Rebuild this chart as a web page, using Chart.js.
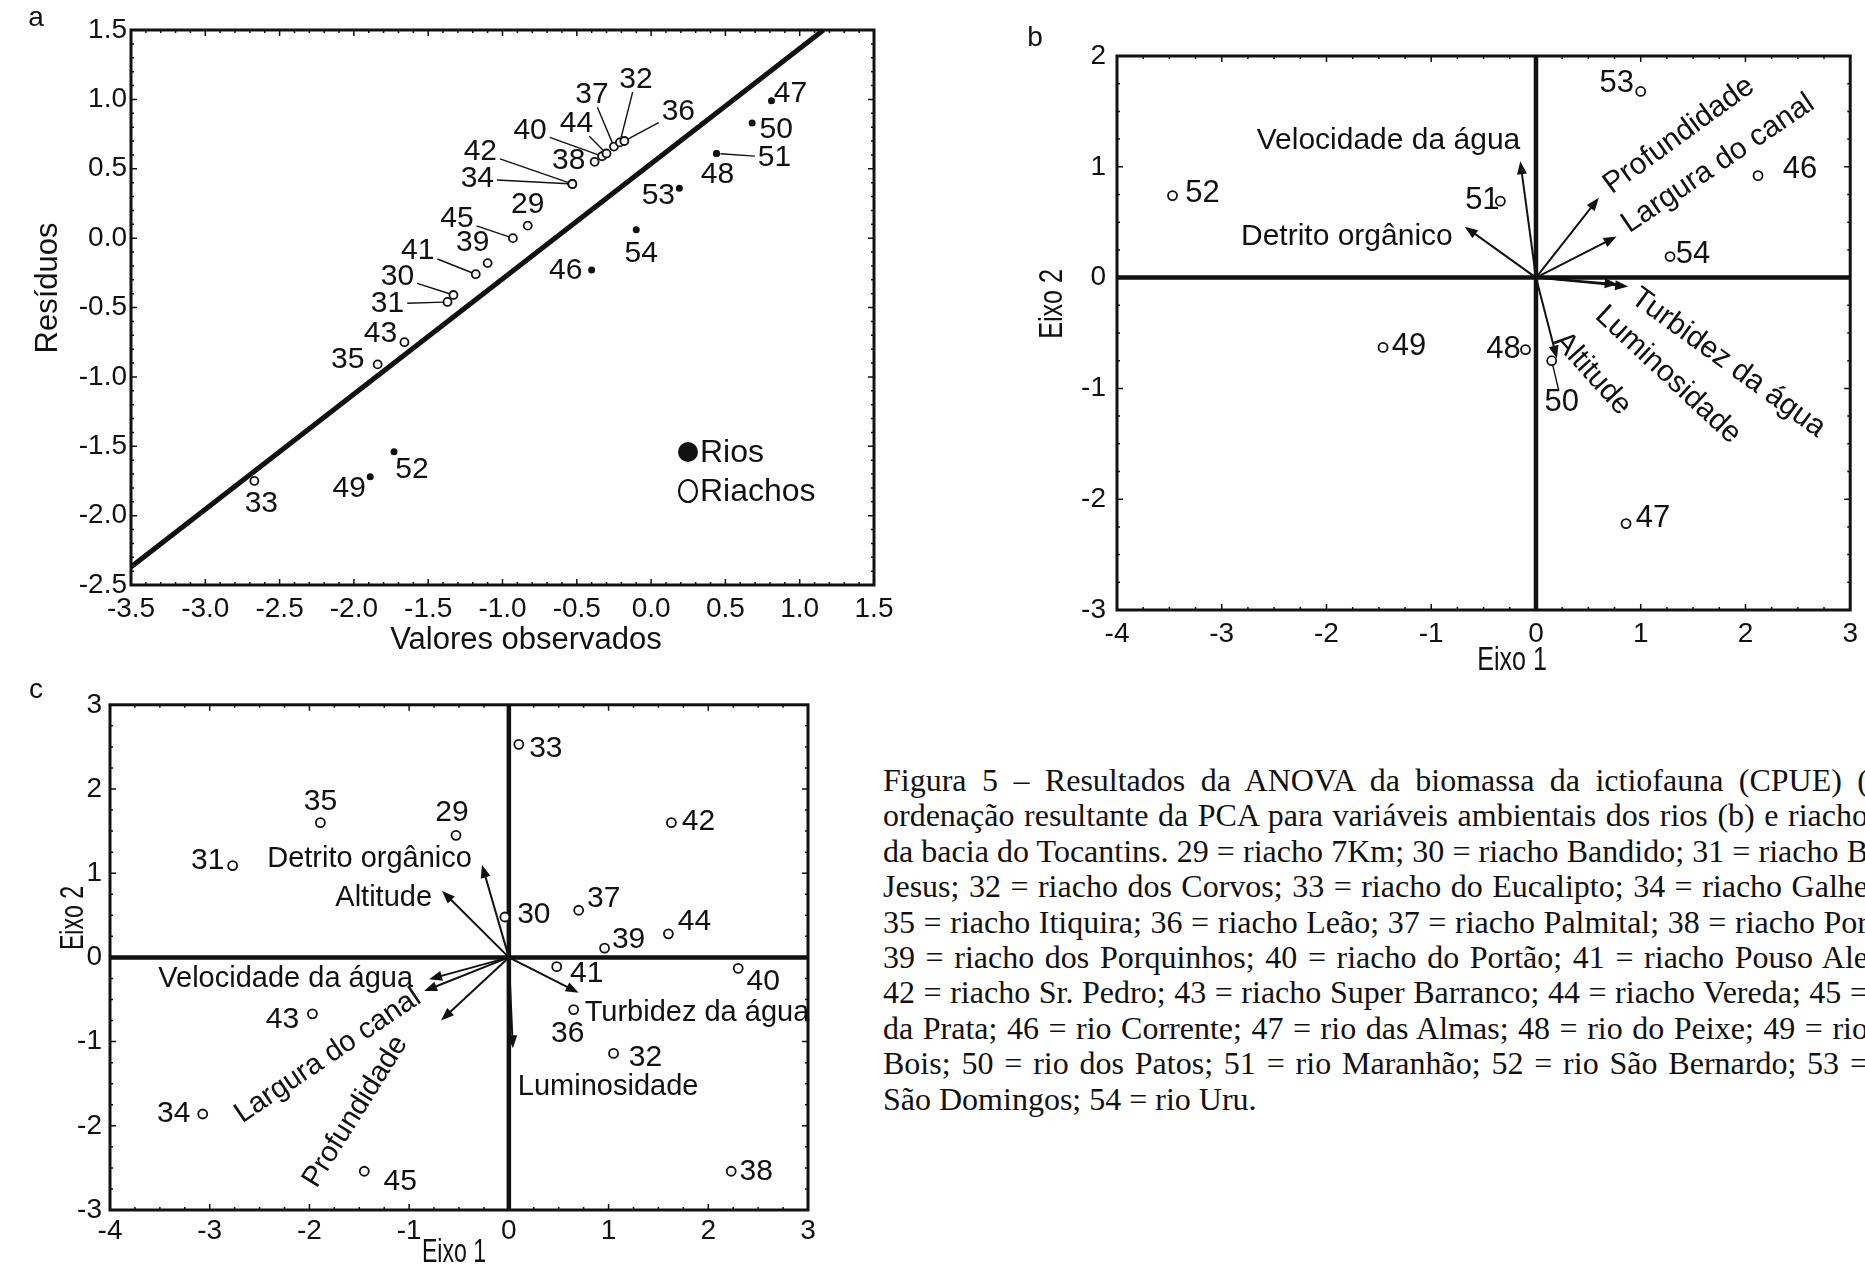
<!DOCTYPE html>
<html lang="pt">
<head>
<meta charset="utf-8">
<title>Figura 5 - ANOVA e PCA</title>
<script src="https://cdn.jsdelivr.net/npm/chart.js@4.4.0/dist/chart.umd.min.js"></script>
<style>
    html, body { margin: 0; padding: 0; background: #fff; }
    body { width: 1865px; height: 1267px; position: relative; overflow: hidden; }
    canvas { position: absolute; display: block; }
    #caption {
        position: absolute; left: 883px; top: 763px;
        font-family: "Liberation Serif", "Times New Roman", serif;
        font-size: 32px; color: #111;
    }
    #caption div {
        width: 985px; height: 35.4px; line-height: 35.4px;
        white-space: nowrap; text-align: justify; text-align-last: justify;
    }
    #caption div.last { text-align-last: left; }
</style>
</head>
<body>
<canvas id="chartA" width="930" height="680" style="left:0;top:0"></canvas>
<canvas id="chartB" width="865" height="680" style="left:1000px;top:0"></canvas>
<canvas id="chartC" width="860" height="587" style="left:0;top:680px"></canvas>

<div id="caption">
    <div>Figura 5 – Resultados da ANOVA da biomassa da ictiofauna (CPUE) (</div>
    <div>ordenação resultante da PCA para variáveis ambientais dos rios (b) e riacho</div>
    <div>da bacia do Tocantins. 29 = riacho 7Km; 30 = riacho Bandido; 31 = riacho B</div>
    <div>Jesus; 32 = riacho dos Corvos; 33 = riacho do Eucalipto; 34 = riacho Galhe</div>
    <div>35 = riacho Itiquira; 36 = riacho Leão; 37 = riacho Palmital; 38 = riacho Por</div>
    <div>39 = riacho dos Porquinhos; 40 = riacho do Portão; 41 = riacho Pouso Ale</div>
    <div>42 = riacho Sr. Pedro; 43 = riacho Super Barranco; 44 = riacho Vereda; 45 =</div>
    <div>da Prata; 46 = rio Corrente; 47 = rio das Almas; 48 = rio do Peixe; 49 = rio</div>
    <div>Bois; 50 = rio dos Patos; 51 = rio Maranhão; 52 = rio São Bernardo; 53 =</div>
    <div class="last">São Domingos; 54 = rio Uru.</div>
</div>

<script>
// ---- painel a: residuos x valores observados ----
const aXTicks = [-3.5, -3.0, -2.5, -2.0, -1.5, -1.0, -0.5, 0.0, 0.5, 1.0, 1.5];
const aYTicks = [-2.5, -2.0, -1.5, -1.0, -0.5, 0.0, 0.5, 1.0, 1.5];

const aRiosIds = ['47', '50', '51', '48', '53', '54', '46', '52', '49'];
const aRiosX = [0.81, 0.68, 0.44, 0.44, 0.19, -0.10, -0.40, -1.73, -1.89];
const aRiosY = [0.99, 0.83, 0.61, 0.61, 0.36, 0.06, -0.23, -1.54, -1.72];

const aRiachosIds = ['33', '35', '43', '31', '30', '41', '39', '45', '29', '42', '34', '38', '40', '44', '37', '32', '36'];
const aRiachosX = [-2.67, -1.84, -1.66, -1.37, -1.33, -1.18, -1.10, -0.93, -0.83, -0.53, -0.53, -0.38, -0.33, -0.30, -0.25, -0.21, -0.18];
const aRiachosY = [-1.75, -0.91, -0.75, -0.46, -0.41, -0.26, -0.18, 0.00, 0.09, 0.39, 0.39, 0.55, 0.59, 0.61, 0.66, 0.69, 0.70];

// reta de ajuste (extremos)
const aFitX = [-3.5, 1.16];
const aFitY = [-2.37, 1.5];

// ---- painel b: PCA rios ----
const bXTicks = [-4, -3, -2, -1, 0, 1, 2, 3];
const bYTicks = [-3, -2, -1, 0, 1, 2];

const bIds = ['53', '52', '51', '46', '54', '49', '48', '50', '47'];
const bX = [1.00, -3.47, -0.34, 2.12, 1.28, -1.46, -0.10, 0.15, 0.86];
const bY = [1.68, 0.74, 0.69, 0.92, 0.19, -0.63, -0.65, -0.75, -2.22];

const bVarNames = ['Velocidade da água', 'Detrito orgânico', 'Profundidade', 'Largura do canal', 'Turbidez da água', 'Luminosidade', 'Altitude'];
const bVarX = [-0.15, -0.68, 0.60, 0.77, 0.88, 0.78, 0.20];
const bVarY = [1.05, 0.46, 0.72, 0.37, -0.08, -0.06, -0.73];

// ---- painel c: PCA riachos ----
const cXTicks = [-4, -3, -2, -1, 0, 1, 2, 3];
const cYTicks = [-3, -2, -1, 0, 1, 2, 3];

const cIds = ['33', '35', '29', '31', '42', '37', '30', '44', '39', '41', '40', '36', '43', '32', '34', '45', '38'];
const cX = [0.10, -1.89, -0.53, -2.77, 1.63, 0.70, -0.04, 1.60, 0.96, 0.48, 2.30, 0.65, -1.97, 1.05, -3.07, -1.45, 2.23];
const cY = [2.53, 1.60, 1.45, 1.09, 1.60, 0.56, 0.48, 0.28, 0.11, -0.11, -0.13, -0.62, -0.67, -1.14, -1.86, -2.54, -2.54];

const cVarNames = ['Detrito orgânico', 'Altitude', 'Velocidade da água', 'Largura do canal', 'Profundidade', 'Turbidez da água', 'Luminosidade'];
const cVarX = [-0.27, -0.67, -0.80, -0.85, -0.68, 0.70, 0.04];
const cVarY = [1.10, 0.79, -0.26, -0.40, -0.75, -0.42, -1.08];

// ---- posicao dos rotulos (px a partir do ponto) ----
const aTagOffsets = {
    '47': [19, -7], '50': [24, 7], '51': [58, 4, true], '48': [1, 21], '53': [-21, 8],
    '54': [5, 24], '46': [-26, 1], '52': [18, 18], '49': [-21, 12], '33': [7, 23],
    '35': [-30, -5], '43': [-24, -8], '31': [-60, 2, true], '30': [-56, -18, true],
    '41': [-58, -23, true], '39': [-15, -20], '45': [-56, -19, true], '29': [0, -21],
    '42': [-92, -32, true], '34': [-95, -5, true], '38': [-26, -1], '40': [-72, -26, true],
    '44': [-30, -30, true], '37': [-22, -52, true], '32': [16, -63, true], '36': [54, -29, true],
};
const bTagOffsets = {
    '53': [-24, -8], '52': [30, -2], '51': [-18, -1], '46': [42, -6], '54': [23, -2],
    '49': [26, -1], '48': [-22, 0], '50': [10, 42, true], '47': [27, -5],
};
const cTagOffsets = {
    '33': [27, 4], '35': [0, -21], '29': [-4, -23], '31': [-25, -5], '42': [27, -1],
    '37': [25, -12], '30': [29, -2], '44': [26, -12], '39': [24, -8], '41': [30, 7],
    '40': [25, 13], '36': [-6, 24], '43': [-30, 6], '32': [32, 4], '34': [-29, 0],
    '45': [36, 10], '38': [25, 0],
};
const bVarLayout = [
    { dx: 0, dy: -21, align: 'right', rot: 0 },
    { dx: -12, dy: 10, align: 'right', rot: 0 },
    { dx: 8, dy: -10, align: 'left', rot: -36 },
    { dx: 8, dy: -10, align: 'left', rot: -34 },
    { dx: 6, dy: 8, align: 'left', rot: 36 },
    { dx: -18, dy: 27, align: 'left', rot: 43 },
    { dx: 2, dy: -22, align: 'left', rot: 48 },
];
const cVarLayout = [
    { dx: -10, dy: -6, align: 'right', rot: 0 },
    { dx: -10, dy: 7, align: 'right', rot: 0 },
    { dx: -16, dy: 0, align: 'right', rot: 0 },
    { dx: -6, dy: 4, align: 'right', rot: -34 },
    { dx: -40, dy: 18, align: 'right', rot: -58 },
    { dx: 6, dy: 20, align: 'left', rot: 0 },
    { dx: 5, dy: 39, align: 'left', rot: 0 },
];

const INK = '#111';
const FONT = '"Liberation Sans", Arial, Helvetica, sans-serif';

Chart.defaults.font.family = FONT;
Chart.defaults.color = INK;
Chart.defaults.animation = false;

const toPoints = (xs, ys) => xs.map((x, i) => ({ x, y: ys[i] }));

// moldura grossa, marcas internas, eixos zero, letra e titulos dos eixos
const framePlugin = {
    id: 'frame',
    beforeDatasetsDraw(chart, args, o) {
        if (!o.zeroLines) return;
        const { ctx, chartArea: a, scales: { x, y } } = chart;
        const x0 = x.getPixelForValue(0);
        const y0 = y.getPixelForValue(0);
        ctx.save();
        ctx.strokeStyle = INK;
        ctx.lineWidth = o.zeroWidth;
        ctx.beginPath();
        ctx.moveTo(x0, a.top);
        ctx.lineTo(x0, a.bottom);
        ctx.moveTo(a.left, y0);
        ctx.lineTo(a.right, y0);
        ctx.stroke();
        ctx.restore();
    },
    afterDraw(chart, args, o) {
        const { ctx, chartArea: a, scales: { x, y } } = chart;
        ctx.save();
        ctx.strokeStyle = INK;
        ctx.lineWidth = 1.5;
        const marks = (scale, horiz) => {
            const t = scale.ticks.map(k => k.value);
            for (let i = 0; i < t.length; i++) {
                const subs = i < t.length - 1 ? o.minor : 1;
                for (let s = 0; s < subs; s++) {
                    const v = t[i] + (i < t.length - 1 ? (t[i + 1] - t[i]) * s / subs : 0);
                    const p = scale.getPixelForValue(v);
                    const len = s === 0 ? 6 : 3;
                    ctx.beginPath();
                    if (horiz) {
                        ctx.moveTo(p, a.bottom); ctx.lineTo(p, a.bottom - len);
                        ctx.moveTo(p, a.top); ctx.lineTo(p, a.top + len);
                    } else {
                        ctx.moveTo(a.left, p); ctx.lineTo(a.left + len, p);
                        ctx.moveTo(a.right, p); ctx.lineTo(a.right - len, p);
                    }
                    ctx.stroke();
                }
            }
        };
        marks(x, true);
        marks(y, false);
        ctx.lineWidth = 3;
        ctx.strokeRect(a.left, a.top, a.right - a.left, a.bottom - a.top);

        ctx.fillStyle = INK;
        ctx.textAlign = 'center';
        ctx.textBaseline = 'middle';
        ctx.font = `28px ${FONT}`;
        ctx.fillText(o.letter, o.lx, o.ly);
        (o.titles || []).forEach(t => {
            ctx.save();
            ctx.font = `${t.size}px ${FONT}`;
            ctx.translate(t.x, t.y);
            ctx.rotate((t.rot || 0) * Math.PI / 180);
            ctx.scale(t.sx || 1, 1);
            ctx.fillText(t.text, 0, 0);
            ctx.restore();
        });
        ctx.restore();
    },
};

// numeros dos pontos, com linhas de chamada
const tagPlugin = {
    id: 'tags',
    afterDatasetsDraw(chart, args, o) {
        if (!o.offsets) return;
        const { ctx } = chart;
        ctx.save();
        ctx.font = `${o.size}px ${FONT}`;
        ctx.fillStyle = INK;
        ctx.strokeStyle = INK;
        ctx.lineWidth = 1.4;
        ctx.textAlign = 'center';
        ctx.textBaseline = 'middle';
        chart.data.datasets.forEach((ds, i) => {
            if (!ds.ids) return;
            chart.getDatasetMeta(i).data.forEach((pt, j) => {
                const id = ds.ids[j];
                const off = o.offsets[id];
                if (!off) return;
                const cx = pt.x + off[0];
                const cy = pt.y + off[1];
                ctx.fillText(id, cx, cy);
                if (off[2]) {
                    const hw = ctx.measureText(id).width / 2 + 3;
                    const hh = o.size * 0.36 + 2;
                    const vx = pt.x - cx, vy = pt.y - cy;
                    const len = Math.hypot(vx, vy);
                    const t = Math.min(vx ? hw / Math.abs(vx) : 1e9, vy ? hh / Math.abs(vy) : 1e9);
                    ctx.beginPath();
                    ctx.moveTo(cx + vx * t, cy + vy * t);
                    ctx.lineTo(pt.x - vx / len * 4, pt.y - vy / len * 4);
                    ctx.stroke();
                }
            });
        });
        ctx.restore();
    },
};

// vetores das variaveis ambientais
const arrowPlugin = {
    id: 'arrows',
    afterDatasetsDraw(chart, args, o) {
        if (!o.names) return;
        const { ctx, scales: { x, y } } = chart;
        const x0 = x.getPixelForValue(0);
        const y0 = y.getPixelForValue(0);
        ctx.save();
        ctx.strokeStyle = INK;
        ctx.fillStyle = INK;
        ctx.lineWidth = 2;
        ctx.font = `${o.size}px ${FONT}`;
        o.names.forEach((name, i) => {
            const tx = x.getPixelForValue(o.xs[i]);
            const ty = y.getPixelForValue(o.ys[i]);
            const ang = Math.atan2(ty - y0, tx - x0);
            const c = Math.cos(ang), s = Math.sin(ang);
            const L = 13, W = 5;
            ctx.beginPath();
            ctx.moveTo(x0, y0);
            ctx.lineTo(tx - L * 0.7 * c, ty - L * 0.7 * s);
            ctx.stroke();
            ctx.beginPath();
            ctx.moveTo(tx, ty);
            ctx.lineTo(tx - L * c + W * s, ty - L * s - W * c);
            ctx.lineTo(tx - L * c - W * s, ty - L * s + W * c);
            ctx.closePath();
            ctx.fill();

            const lab = o.layout[i];
            ctx.save();
            ctx.translate(tx + lab.dx, ty + lab.dy);
            ctx.rotate(lab.rot * Math.PI / 180);
            ctx.textAlign = lab.align;
            ctx.textBaseline = 'middle';
            ctx.fillText(name, 0, 0);
            ctx.restore();
        });
        ctx.restore();
    },
};

// legenda do painel a (dentro da area do grafico)
const keyPlugin = {
    id: 'key',
    afterDraw(chart, args, o) {
        if (!o.items) return;
        const { ctx, chartArea: a } = chart;
        ctx.save();
        ctx.font = `32px ${FONT}`;
        ctx.fillStyle = INK;
        ctx.strokeStyle = INK;
        ctx.lineWidth = 2.2;
        ctx.textBaseline = 'middle';
        o.items.forEach((it, i) => {
            const px = a.left + o.x;
            const py = a.top + o.y + i * o.gap;
            ctx.beginPath();
            if (it.filled) {
                ctx.arc(px, py, 10, 0, Math.PI * 2);
                ctx.fill();
            } else {
                ctx.ellipse(px, py, 9, 11, 0, 0, Math.PI * 2);
                ctx.stroke();
            }
            ctx.fillText(it.label, px + 12, py + 1);
        });
        ctx.restore();
    },
};

Chart.register(framePlugin, tagPlugin, arrowPlugin, keyPlugin);

function axis(min, max, tickValues, fmt, opt) {
    return {
        type: 'linear',
        min, max,
        grid: { display: false, drawTicks: false },
        border: { display: false },
        afterBuildTicks: s => { s.ticks = tickValues.map(v => ({ value: v })); },
        afterFit: s => { if (opt.width) s.width = opt.width; if (opt.height) s.height = opt.height; },
        ticks: {
            autoSkip: false, maxRotation: 0, minRotation: 0,
            padding: opt.tickPad, color: INK,
            font: { size: 28 },
            callback: v => fmt(v),
        },
        title: { display: false },
    };
}

const openPoint = {
    pointRadius: 4.5, pointBorderWidth: 1.8,
    pointBackgroundColor: '#fff', pointBorderColor: INK,
    borderColor: INK, backgroundColor: '#fff',
};

const baseOptions = (padding, scales, plugins) => ({
    responsive: false,
    animation: false,
    events: [],
    layout: { padding },
    scales,
    plugins: Object.assign({
        legend: { display: false },
        tooltip: { enabled: false },
    }, plugins),
});

const one = v => v.toFixed(1);
const int = v => String(v);

// painel a
new Chart(document.getElementById('chartA'), {
    type: 'scatter',
    data: {
        datasets: [
            {
                label: 'Rios', ids: aRiosIds, data: toPoints(aRiosX, aRiosY),
                pointRadius: 3.5, pointBorderWidth: 0,
                pointBackgroundColor: INK, backgroundColor: INK, borderColor: INK,
            },
            Object.assign({ label: 'Riachos', ids: aRiachosIds, data: toPoints(aRiachosX, aRiachosY) }, openPoint, { pointRadius: 4 }),
            {
                type: 'line', label: 'Ajuste', data: toPoints(aFitX, aFitY),
                borderColor: INK, borderWidth: 5, pointRadius: 0, showLine: true, fill: false,
            },
        ],
    },
    options: baseOptions(
        { left: 0, top: 30, right: 56, bottom: 0 },
        {
            x: axis(-3.5, 1.5, aXTicks, one, { height: 95, tickPad: 7 }),
            y: axis(-2.5, 1.5, aYTicks, one, { width: 131, tickPad: 4 }),
        },
        {
            frame: {
                letter: 'a', lx: 36, ly: 18, minor: 5, zeroLines: false,
                titles: [
                    { text: 'Valores observados', x: 526, y: 640, size: 31 },
                    { text: 'Resíduos', x: 48, y: 288, size: 31, rot: -90 },
                ],
            },
            tags: { offsets: aTagOffsets, size: 30 },
            key: { items: [{ label: 'Rios', filled: true }, { label: 'Riachos', filled: false }], x: 557, y: 422, gap: 39 },
        }
    ),
});

// painel b
new Chart(document.getElementById('chartB'), {
    type: 'scatter',
    data: {
        datasets: [
            Object.assign({ label: 'Rios', ids: bIds, data: toPoints(bX, bY) }, openPoint),
        ],
    },
    options: baseOptions(
        { left: 0, top: 56, right: 14, bottom: 0 },
        {
            x: axis(-4, 3, bXTicks, int, { height: 70, tickPad: 7 }),
            y: axis(-3, 2, bYTicks, int, { width: 117, tickPad: 11 }),
        },
        {
            frame: {
                letter: 'b', lx: 35, ly: 38, minor: 4, zeroLines: true, zeroWidth: 4.5,
                titles: [
                    { text: 'Eixo 1', x: 512, y: 661, size: 33, sx: 0.76 },
                    { text: 'Eixo 2', x: 53, y: 304, size: 33, sx: 0.76, rot: -90 },
                ],
            },
            tags: { offsets: bTagOffsets, size: 31 },
            arrows: { names: bVarNames, xs: bVarX, ys: bVarY, layout: bVarLayout, size: 30 },
        }
    ),
});

// painel c
new Chart(document.getElementById('chartC'), {
    type: 'scatter',
    data: {
        datasets: [
            Object.assign({ label: 'Riachos', ids: cIds, data: toPoints(cX, cY) }, openPoint),
        ],
    },
    options: baseOptions(
        { left: 0, top: 22, right: 52, bottom: 0 },
        {
            x: axis(-4, 3, cXTicks, int, { height: 57, tickPad: 4 }),
            y: axis(-3, 3, cYTicks, int, { width: 110, tickPad: 8 }),
        },
        {
            frame: {
                letter: 'c', lx: 36, ly: 10, minor: 4, zeroLines: true, zeroWidth: 4.5,
                titles: [
                    { text: 'Eixo 1', x: 454, y: 573, size: 33, sx: 0.7 },
                    { text: 'Eixo 2', x: 74, y: 238, size: 33, sx: 0.7, rot: -90 },
                ],
            },
            tags: { offsets: cTagOffsets, size: 30 },
            arrows: { names: cVarNames, xs: cVarX, ys: cVarY, layout: cVarLayout, size: 29 },
        }
    ),
});
</script>
</body>
</html>
